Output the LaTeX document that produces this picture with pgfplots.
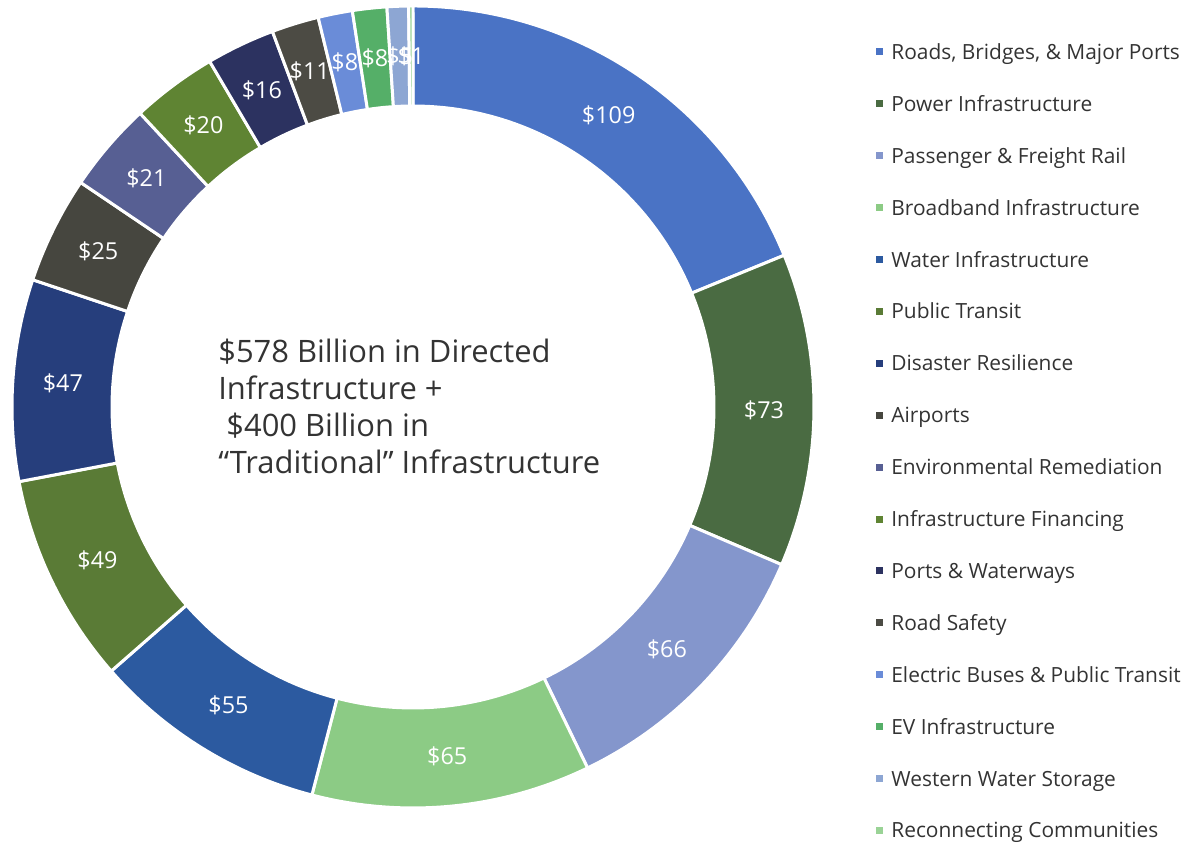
\documentclass[border=0pt]{standalone}
\usepackage{pgfplots}
\usepackage{pgfplotstable}
\pgfplotsset{compat=1.18}
\usepackage{fontspec}
\setmainfont{Open Sans}

\definecolor{c0}{HTML}{4A73C5}
\definecolor{c1}{HTML}{4A6B42}
\definecolor{c2}{HTML}{8496CC}
\definecolor{c3}{HTML}{8CCB85}
\definecolor{c4}{HTML}{2C5AA0}
\definecolor{c5}{HTML}{5A7B36}
\definecolor{c6}{HTML}{263E7C}
\definecolor{c7}{HTML}{46463F}
\definecolor{c8}{HTML}{575F93}
\definecolor{c9}{HTML}{5F8433}
\definecolor{c10}{HTML}{2C3260}
\definecolor{c11}{HTML}{4C4B44}
\definecolor{c12}{HTML}{6A8CD8}
\definecolor{c13}{HTML}{55AF68}
\definecolor{c14}{HTML}{8DA6D3}
\definecolor{c15}{HTML}{9AD396}
\definecolor{txt}{HTML}{333333}

\pgfplotstableread[col sep=comma]{
value,col
109,c0
73,c1
66,c2
65,c3
55,c4
49,c5
47,c6
25,c7
21,c8
20,c9
16,c10
11,c11
8,c12
8,c13
5,c14
1,c15
}\slicedata

\xdef\total{0}
\foreach \i in {0,...,15}{%
  \pgfplotstablegetelem{\i}{value}\of\slicedata
  \pgfmathparse{\total+\pgfplotsretval}\xdef\total{\pgfmathresult}%
}
\xdef\cum{0}
\foreach \i in {0,...,15}{%
  \pgfplotstablegetelem{\i}{value}\of\slicedata
  \let\v\pgfplotsretval
  \expandafter\xdef\csname val\i\endcsname{\v}%
  \pgfmathsetmacro\aS{90-\cum/\total*360}%
  \pgfmathsetmacro\aE{90-(\cum+\v)/\total*360}%
  \expandafter\xdef\csname aS\i\endcsname{\aS}%
  \expandafter\xdef\csname aE\i\endcsname{\aE}%
  \pgfmathparse{\cum+\v}\xdef\cum{\pgfmathresult}%
  \pgfplotstablegetelem{\i}{col}\of\slicedata
  \expandafter\xdef\csname col\i\endcsname{\pgfplotsretval}%
}

\begin{document}
\begin{tikzpicture}
\begin{axis}[x=0.02cm, y=0.02cm, xmin=0, xmax=1185, ymin=0, ymax=847,
  hide axis, clip=false]
\path (axis cs:0,0) rectangle (axis cs:1185,847);
% slices
\foreach \i in {0,...,15}{%
  \edef\tmp{\noexpand\fill[\csname col\i\endcsname, draw=white, line width=1.7pt]
   (axis cs:{413+401*cos(\csname aS\i\endcsname)},{440+401*sin(\csname aS\i\endcsname)})
   arc[start angle=\csname aS\i\endcsname, end angle=\csname aE\i\endcsname, radius=8.02cm]
   -- (axis cs:{413+301*cos(\csname aE\i\endcsname)},{440+301*sin(\csname aE\i\endcsname)})
   arc[start angle=\csname aE\i\endcsname, end angle=\csname aS\i\endcsname, radius=6.02cm]
   -- cycle;}%
  \tmp
}
% value labels
\foreach \i in {0,...,15}{%
  \edef\tmp{\noexpand\node[text=white, inner sep=0pt, font=\noexpand\fontsize{13.3}{15}\noexpand\selectfont]
   at (axis cs:{413+351*cos((\csname aS\i\endcsname+\csname aE\i\endcsname)/2)},{440+351*sin((\csname aS\i\endcsname+\csname aE\i\endcsname)/2)})
   {\noexpand\$\csname val\i\endcsname};}%
  \tmp
}
% legend
\foreach \i/\n in {0/{Roads, Bridges, \& Major Ports},1/{Power Infrastructure},2/{Passenger \& Freight Rail},3/{Broadband Infrastructure},4/{Water Infrastructure},5/{Public Transit},6/{Disaster Resilience},7/{Airports},8/{Environmental Remediation},9/{Infrastructure Financing},10/{Ports \& Waterways},11/{Road Safety},12/{Electric Buses \& Public Transit},13/{EV Infrastructure},14/{Western Water Storage},15/{Reconnecting Communities}}{%
  \pgfmathsetmacro\yy{847-(52+51.9*\i)}%
  \edef\tmp{\noexpand\fill[\csname col\i\endcsname] (axis cs:875.5,{\yy-3.5}) rectangle (axis cs:882.5,{\yy+3.5});
   \noexpand\node[anchor=base west, inner sep=0pt, text=txt, font=\noexpand\fontsize{11.9}{14}\noexpand\selectfont]
   at (axis cs:891,{\yy-7.5}) {\unexpanded\expandafter{\n}};}%
  \tmp
}
% centre text
\node[anchor=base west, inner sep=0pt, text=txt, font=\fontsize{17.6}{21}\selectfont] at (axis cs:218,{847-363}) {\$578 Billion in Directed};
\node[anchor=base west, inner sep=0pt, text=txt, font=\fontsize{17.6}{21}\selectfont] at (axis cs:218,{847-400}) {Infrastructure +};
\node[anchor=base west, inner sep=0pt, text=txt, font=\fontsize{17.6}{21}\selectfont] at (axis cs:218,{847-437}) {\ \$400 Billion in};
\node[anchor=base west, inner sep=0pt, text=txt, font=\fontsize{17.6}{21}\selectfont] at (axis cs:218,{847-474}) {“Traditional” Infrastructure};
\end{axis}
\end{tikzpicture}
\end{document}
